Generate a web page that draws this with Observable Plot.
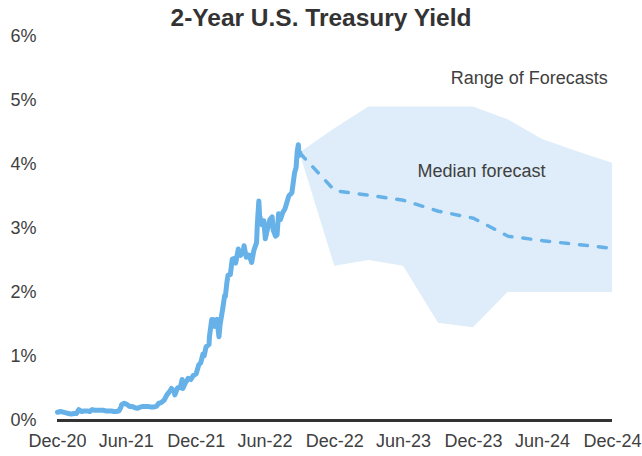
<!DOCTYPE html>
<html>
<head>
<meta charset="utf-8">
<script src="https://cdn.jsdelivr.net/npm/d3@7"></script>
<script src="https://cdn.jsdelivr.net/npm/@observablehq/plot@0.6"></script>
<style>
  html, body { margin: 0; padding: 0; background: #ffffff; }
  #wrap { width: 642px; height: 456px; position: relative; overflow: hidden; }
  #title { height: 26px; line-height: 26px; text-align: center; font-family: "Liberation Sans", Arial, sans-serif; font-weight: bold; font-size: 24.5px; color: #333333; position: relative; }
  #title span { position: relative; top: 5px; }
</style>
</head>
<body>
<div id="wrap">
  <div id="title"><span>2-Year U.S. Treasury Yield</span></div>
  <div id="chart"></div>
</div>
<script>
// Actual 2-year Treasury yield (%)
const actualDates = [
  "2020-12-31","2021-01-08","2021-01-15","2021-01-22","2021-01-29","2021-02-05","2021-02-12","2021-02-19","2021-02-25",
  "2021-03-05","2021-03-12","2021-03-19","2021-03-26","2021-04-01","2021-04-09","2021-04-16","2021-04-23","2021-04-30",
  "2021-05-07","2021-05-14","2021-05-21","2021-05-28","2021-06-04","2021-06-11","2021-06-16","2021-06-18","2021-06-25",
  "2021-07-02","2021-07-09","2021-07-16","2021-07-23","2021-07-30","2021-08-06","2021-08-13","2021-08-20","2021-08-27",
  "2021-09-03","2021-09-10","2021-09-17","2021-09-24","2021-09-30","2021-10-08","2021-10-15","2021-10-22","2021-10-27",
  "2021-11-03","2021-11-05","2021-11-12","2021-11-19","2021-11-24","2021-11-26","2021-12-03","2021-12-10","2021-12-17",
  "2021-12-23","2021-12-31",
  "2022-01-07","2022-01-12","2022-01-18","2022-01-21","2022-01-26","2022-01-28","2022-02-03","2022-02-04","2022-02-10",
  "2022-02-14","2022-02-18","2022-02-24","2022-03-01","2022-03-04","2022-03-09","2022-03-11","2022-03-16","2022-03-18",
  "2022-03-22","2022-03-25","2022-03-31","2022-04-05","2022-04-08","2022-04-14","2022-04-21","2022-04-27","2022-05-04",
  "2022-05-06","2022-05-12","2022-05-16","2022-05-20","2022-05-26","2022-06-01","2022-06-08","2022-06-10","2022-06-14",
  "2022-06-16","2022-06-22","2022-06-27","2022-06-30","2022-07-01","2022-07-06","2022-07-13","2022-07-19","2022-07-22",
  "2022-07-28","2022-08-01","2022-08-05","2022-08-10","2022-08-16","2022-08-22","2022-08-26","2022-09-01","2022-09-09",
  "2022-09-14","2022-09-16","2022-09-20","2022-09-23","2022-09-26","2022-09-28","2022-09-30"
];
const actualValues = [
  0.13,0.14,0.13,0.12,0.11,0.10,0.11,0.11,0.17,
  0.14,0.15,0.15,0.14,0.17,0.16,0.16,0.16,0.16,
  0.15,0.15,0.15,0.14,0.14,0.15,0.21,0.25,0.27,
  0.25,0.22,0.22,0.20,0.19,0.21,0.22,0.22,0.22,
  0.21,0.21,0.22,0.27,0.28,0.32,0.40,0.45,0.50,
  0.46,0.40,0.51,0.51,0.64,0.50,0.59,0.66,0.64,
  0.70,0.73,
  0.87,0.90,1.04,1.01,1.15,1.16,1.19,1.31,1.58,
  1.58,1.47,1.58,1.31,1.50,1.68,1.75,1.95,1.94,
  2.16,2.27,2.28,2.52,2.53,2.46,2.68,2.58,2.64,
  2.73,2.55,2.59,2.58,2.47,2.66,2.78,3.06,3.43,
  3.20,3.06,3.12,2.92,2.84,2.97,3.14,3.18,2.97,
  2.88,2.90,3.23,3.14,3.25,3.31,3.39,3.51,3.56,
  3.78,3.87,3.95,4.20,4.31,4.14,4.18
];

// Forecasts (quarterly)
const forecastDates = ["2022-09-30","2022-12-31","2023-03-31","2023-06-30","2023-09-30","2023-12-31","2024-03-31","2024-06-30","2024-09-30","2024-12-31"];
const forecastMedian = [4.18, 3.59, 3.52, 3.44, 3.27, 3.16, 2.88, 2.81, 2.75, 2.69];
const forecastHigh   = [4.18, 4.56, 4.90, 4.90, 4.90, 4.90, 4.70, 4.39, 4.20, 4.02];
const forecastLow    = [4.18, 2.41, 2.50, 2.41, 1.52, 1.45, 2.00, 2.00, 2.00, 2.00];

// Axis ticks
const xTickDates = ["2020-12-31","2021-06-30","2021-12-31","2022-06-30","2022-12-31","2023-06-30","2023-12-31","2024-06-30","2024-12-31"];
const yTickValues = [0, 1, 2, 3, 4, 5, 6];

// Annotations
const annotationTexts  = ["Range of Forecasts", "Median forecast"];
const annotationDates  = ["2024-05-26", "2024-01-21"];
const annotationValues = [5.35, 3.90];

const parse = d3.utcParse("%Y-%m-%d");
const actual = actualDates.map((d, i) => ({date: parse(d), value: actualValues[i]}));
const forecast = forecastDates.map((d, i) => ({date: parse(d), median: forecastMedian[i], high: forecastHigh[i], low: forecastLow[i]}));
const annotations = annotationTexts.map((t, i) => ({text: t, date: parse(annotationDates[i]), value: annotationValues[i]}));
const xTicks = xTickDates.map(parse);

const blue = "#66b1e8";

const chart = Plot.plot({
  width: 642,
  height: 430,
  marginTop: 10,
  marginBottom: 36,
  marginLeft: 57,
  marginRight: 30,
  style: {
    fontFamily: "'Liberation Sans', Arial, sans-serif",
    fontSize: "18px",
    color: "#404040",
    background: "transparent",
    overflow: "visible"
  },
  x: {type: "utc", domain: [parse("2020-12-31"), parse("2024-12-31")]},
  y: {domain: [0, 6]},
  marks: [
    Plot.areaY(forecast, {x: "date", y1: "low", y2: "high", fill: "#deedf9"}),
    Plot.ruleY([0], {stroke: "#333333", strokeWidth: 3}),
    Plot.line(actual, {x: "date", y: "value", stroke: blue, strokeWidth: 5, strokeLinejoin: "round", strokeLinecap: "round"}),
    Plot.line(forecast, {x: "date", y: "median", stroke: blue, strokeWidth: 3.5, strokeDasharray: "8,11", strokeLinecap: "round", strokeLinejoin: "round"}),
    Plot.text(annotations, {x: "date", y: "value", text: "text", fontSize: 18, fill: "#404040", textAnchor: "middle", lineAnchor: "middle"}),
    Plot.axisX(xTicks, {tickFormat: d3.utcFormat("%b-%y"), tickSize: 0, tickPadding: 14, fontSize: 18, label: null}),
    Plot.axisY(yTickValues, {tickFormat: d => d + "%", tickSize: 0, tickPadding: 21, fontSize: 18, label: null})
  ]
});
document.getElementById("chart").appendChild(chart);
</script>
</body>
</html>
